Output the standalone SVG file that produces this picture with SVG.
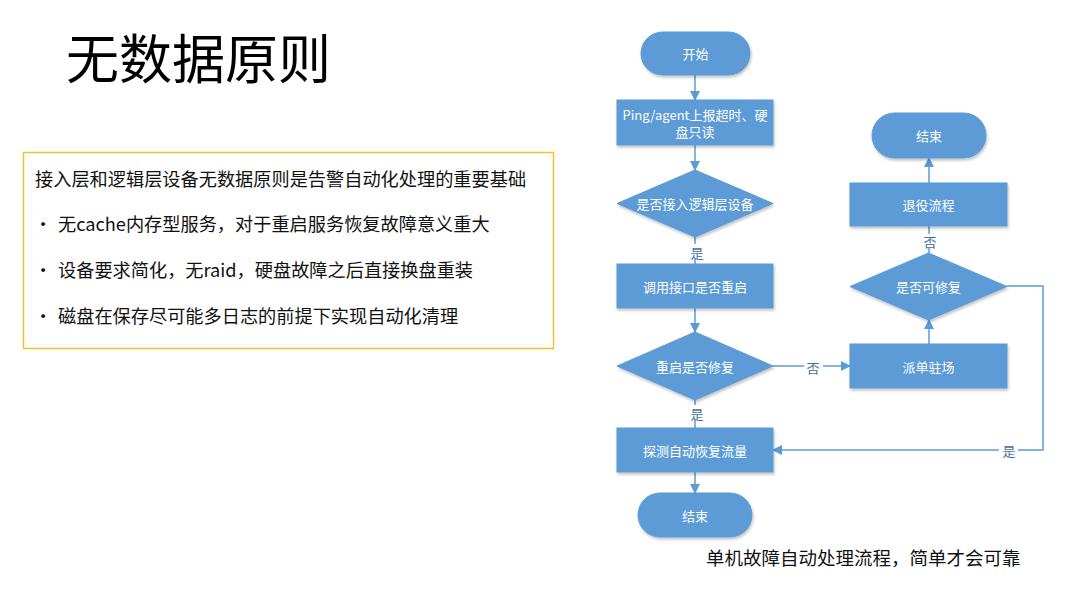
<svg xmlns="http://www.w3.org/2000/svg" width="1067" height="591" viewBox="0 0 1067 591">
<defs>
<style>
.cjk{font-family:"Noto Sans CJK SC","Liberation Sans",sans-serif}
.node{fill:#5b9bd5;stroke:#5b9bd5;stroke-width:1;filter:url(#sh)}
.nt{font-family:"Noto Sans CJK SC","Liberation Sans",sans-serif;font-size:13px;fill:#ffffff;text-anchor:middle;dominant-baseline:central}
.conn{fill:none;stroke:#5b9bd5;stroke-width:1.5}
.lbl{font-family:"Noto Sans CJK SC",sans-serif;font-size:13px;fill:#41719c;text-anchor:middle;dominant-baseline:central}
.body{font-family:"Noto Sans CJK SC","Liberation Sans",sans-serif;font-size:18.2px;fill:#111111}
</style>
<filter id="sh" x="-10%" y="-10%" width="125%" height="135%">
<feGaussianBlur in="SourceAlpha" stdDeviation="1.5"/>
<feOffset dx="1" dy="2"/>
<feComponentTransfer><feFuncA type="linear" slope="0.25"/></feComponentTransfer>
<feMerge><feMergeNode/><feMergeNode in="SourceGraphic"/></feMerge>
</filter>
<marker id="ah" markerWidth="10" markerHeight="10" refX="9" refY="5" orient="auto" markerUnits="userSpaceOnUse">
<path d="M0,0 L10,5 L0,10 Z" fill="#5b9bd5"/>
</marker>
</defs>
<rect width="1067" height="591" fill="#ffffff"/>

<g id="title"><text class="cjk" x="66" y="79" font-size="53" fill="#000000">无数据原则</text></g>

<g id="principles">
<rect x="23.5" y="152.5" width="530" height="196" fill="none" stroke="#f2c12e" stroke-width="1.5"/>
<text class="body" x="35" y="186">接入层和逻辑层设备无数据原则是告警自动化处理的重要基础</text>
<text class="body" x="34" y="231">•</text><text class="body" x="58" y="231">无cache内存型服务，对于重启服务恢复故障意义重大</text>
<text class="body" x="34" y="277">•</text><text class="body" x="58" y="277">设备要求简化，无raid，硬盘故障之后直接换盘重装</text>
<text class="body" x="34" y="323">•</text><text class="body" x="58" y="323">磁盘在保存尽可能多日志的前提下实现自动化清理</text>
</g>

<g id="connectors">
<line class="conn" x1="695" y1="75" x2="695" y2="100" marker-end="url(#ah)"/>
<line class="conn" x1="695" y1="145" x2="695" y2="170" marker-end="url(#ah)"/>
<line class="conn" x1="695" y1="237" x2="695" y2="244"/>
<line class="conn" x1="695" y1="259" x2="695" y2="264"/>
<line class="conn" x1="695" y1="308" x2="695" y2="332" marker-end="url(#ah)"/>
<line class="conn" x1="773" y1="366" x2="804" y2="366"/>
<line class="conn" x1="823" y1="366" x2="850" y2="366" marker-end="url(#ah)"/>
<line class="conn" x1="695" y1="400" x2="695" y2="405"/>
<line class="conn" x1="695" y1="420" x2="695" y2="428"/>
<line class="conn" x1="695" y1="472" x2="695" y2="493" marker-end="url(#ah)"/>
<line class="conn" x1="929" y1="344" x2="929" y2="320" marker-end="url(#ah)"/>
<line class="conn" x1="929" y1="253" x2="929" y2="248"/>
<line class="conn" x1="929" y1="234" x2="929" y2="226"/>
<line class="conn" x1="929" y1="183" x2="929" y2="158" marker-end="url(#ah)"/>
<polyline class="conn" points="1007,286 1043,286 1043,450 1018,450"/>
<line class="conn" x1="999" y1="450" x2="773" y2="450" marker-end="url(#ah)"/>
<text class="lbl" x="697" y="252">是</text>
<text class="lbl" x="813" y="367">否</text>
<text class="lbl" x="697" y="413">是</text>
<text class="lbl" x="930" y="241">否</text>
<text class="lbl" x="1009" y="450">是</text>
</g>

<g id="start"><rect class="node" x="641" y="32" width="109" height="43" rx="21.5"/><text class="nt" x="695.5" y="53">开始</text></g>
<g id="ping"><rect class="node" x="617" y="100" width="156" height="45"/><text class="nt" x="695" y="114">Ping/agent上报超时、硬</text><text class="nt" x="695" y="131.5">盘只读</text></g>
<g id="is-access"><polygon class="node" points="695,170 773,203.5 695,237 617,203.5"/><text class="nt" x="695" y="203.5">是否接入逻辑层设备</text></g>
<g id="restart"><rect class="node" x="617" y="264" width="156" height="44"/><text class="nt" x="695" y="286">调用接口是否重启</text></g>
<g id="restart-fixed"><polygon class="node" points="695,332 773,366 695,400 617,366"/><text class="nt" x="695" y="366">重启是否修复</text></g>
<g id="probe"><rect class="node" x="617" y="428" width="156" height="44"/><text class="nt" x="695" y="450">探测自动恢复流量</text></g>
<g id="end1"><rect class="node" x="638" y="493" width="114" height="44" rx="22"/><text class="nt" x="695" y="515">结束</text></g>
<g id="dispatch"><rect class="node" x="850" y="344" width="157" height="44"/><text class="nt" x="928.5" y="366">派单驻场</text></g>
<g id="repairable"><polygon class="node" points="928.5,253 1007,286.5 928.5,320 850,286.5"/><text class="nt" x="928.5" y="286.5">是否可修复</text></g>
<g id="retire"><rect class="node" x="850" y="183" width="157" height="43"/><text class="nt" x="928.5" y="204.5">退役流程</text></g>
<g id="end2"><rect class="node" x="872" y="113" width="114" height="45" rx="22.5"/><text class="nt" x="929" y="135.5">结束</text></g>

<g id="caption"><text class="cjk" x="706" y="565" font-size="18.5" fill="#111111">单机故障自动处理流程，简单才会可靠</text></g>
</svg>
